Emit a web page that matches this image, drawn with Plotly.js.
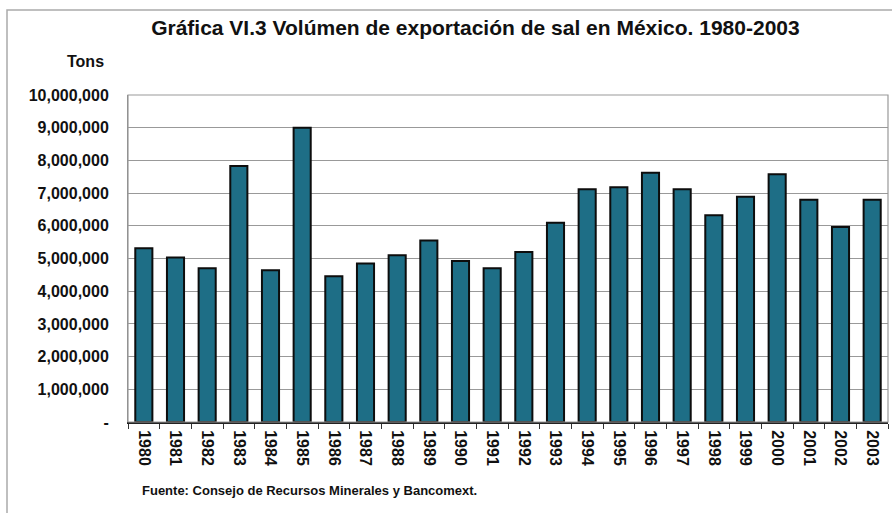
<!DOCTYPE html>
<html>
<head>
<meta charset="utf-8">
<script src="https://cdn.plot.ly/plotly-3.0.1.min.js"></script>
<style>
html,body{margin:0;padding:0;background:#fff;}
#chart{width:892px;height:513px;}
</style>
</head>
<body>
<div id="chart"></div>
<script>
const years = ["1980","1981","1982","1983","1984","1985","1986","1987","1988","1989","1990","1991","1992","1993","1994","1995","1996","1997","1998","1999","2000","2001","2002","2003"];
const tons = [5310000,5030000,4700000,7830000,4640000,9000000,4460000,4850000,5100000,5550000,4920000,4700000,5200000,6090000,7120000,7180000,7620000,7120000,6320000,6890000,7580000,6800000,5960000,6800000];
const yTickVals = [0,1000000,2000000,3000000,4000000,5000000,6000000,7000000,8000000,9000000,10000000];
const yTickText = ["-","1,000,000","2,000,000","3,000,000","4,000,000","5,000,000","6,000,000","7,000,000","8,000,000","9,000,000","10,000,000"];

const sans = '"Liberation Sans", Arial, sans-serif';

const trace = {
  type: 'bar',
  x: years,
  y: tons,
  marker: {color: '#1e6e86', line: {color: '#0d0d0d', width: 2}},
  hoverinfo: 'x+y'
};

const layout = {
  width: 892, height: 513,
  margin: {l: 128, r: 4, t: 95, b: 91},
  paper_bgcolor: '#ffffff',
  plot_bgcolor: '#ffffff',
  bargap: 0.46,
  showlegend: false,
  title: {
    text: '<b>Gráfica VI.3 Volúmen de exportación de sal en México. 1980-2003</b>',
    font: {family: sans, size: 21, color: '#111'},
    x: 0.533, xanchor: 'center', y: 0.947, yanchor: 'middle'
  },
  xaxis: {
    type: 'category',
    tickangle: 90,
    tickfont: {family: sans, size: 16, color: '#111', weight: 'bold'},
    ticks: 'outside', tickson: 'boundaries', ticklen: 5, tickcolor: '#333',
    ticklabelstandoff: 3,
    showline: true, linecolor: '#222', linewidth: 2,
    showgrid: false
  },
  yaxis: {
    range: [0, 10000000],
    tickvals: yTickVals, ticktext: yTickText,
    tickfont: {family: sans, size: 16, color: '#111', weight: 'bold'},
    ticks: '', ticklabelstandoff: 15,
    showgrid: true, gridcolor: '#999', gridwidth: 1,
    showline: true, linecolor: '#8a8a8a', linewidth: 1,
    zeroline: false,
    fixedrange: true
  },
  shapes: [
    {type: 'rect', xref: 'paper', yref: 'paper', x0: 0, x1: 1, y0: 0, y1: 1,
     line: {color: '#999', width: 1.2}, fillcolor: 'rgba(0,0,0,0)'},
    {type: 'rect', xref: 'paper', yref: 'paper', x0: -121/760, x1: 1.02, y0: -0.4, y1: 1 + 85/327,
     line: {color: '#aaa', width: 1.5}, fillcolor: 'rgba(0,0,0,0)', layer: 'below'}
  ],
  annotations: [
    {text: '<b>Tons</b>', xref: 'paper', yref: 'paper', x: -22/760, y: 1 + 33/327,
     xanchor: 'right', yanchor: 'middle', showarrow: false,
     font: {family: sans, size: 16, color: '#111'}},
    {text: '<b>Fuente: Consejo de Recursos Minerales y Bancomext.</b>', xref: 'paper', yref: 'paper',
     x: 12/760, y: -68/327, xanchor: 'left', yanchor: 'middle', showarrow: false,
     font: {family: sans, size: 13, color: '#111'}}
  ]
};

Plotly.newPlot('chart', [trace], layout, {displayModeBar: false, staticPlot: true});
</script>
</body>
</html>
